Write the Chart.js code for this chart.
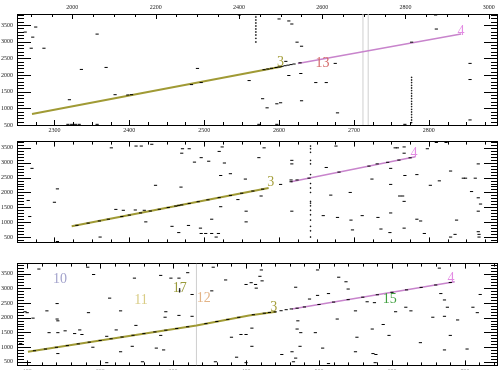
<!DOCTYPE html>
<html><head><meta charset="utf-8">
<script src="https://cdn.jsdelivr.net/npm/chart.js@4"></script>
<style>
body{margin:0;background:#fff;width:502px;height:373px;overflow:hidden;position:relative}
canvas{position:absolute;left:0}
</style></head>
<body>
<canvas id="c1" width="502" height="136" style="top:0px"></canvas>
<canvas id="c2" width="502" height="116" style="top:134px"></canvas>
<canvas id="c3" width="502" height="117" style="top:256px"></canvas>
<script>
// ================= DATA =================
const yTicks = [500,1000,1500,2000,2500,3000,3500];
const p1TopTicks = [2000,2200,2400,2600,2800,3000];
const p1BottomTicks = [2300,2400,2500,2600,2700,2800];
const p3BottomTicks = [100,200,300,400,500,600,700];

// panel 1
const p1Dots = [
[2275,3439],[2261,3288],[2271,3136],[2269,2803],[2286,2803],[2357,3227],[2336,2167],[2369,2227],[2491,2197],[2320,1258],[2381,1409],[2398,1400],[2403,1410],
[2318,520],[2323,520],[2328,520],[2333,520],[2357,520],
[2547,3800],[2560,1833],
[2600,3681],[2613,3621],[2617,3530],[2624,2985],[2630,2863],[2609,2409],[2613,1985],[2629,2045],[2649,1773],[2663,1773],[2675,2348],
[2578,1288],[2584,1015],[2597,1136],[2602,1167],[2630,1227],[2678,864],[2573,520],[2597,520],
[2809,3800],[2810,3379],
[2768,520],[2855,2348],[2855,1864],[2855,652],
[2483,1712],[2496,1773],[2777,2985],
[2580,2160],[2585,2180],[2590,2200],[2596,2225],[2600,2240],[2604,2260],[2608,2278],[2612,2295],[2616,2312],[2620,2330],[2628,2365]
];
const p1Columns = [
[2569,3820],[2569,3740],[2569,3650],[2569,3560],[2569,3470],[2569,3380],[2569,3290],[2569,3200],[2569,3100],[2569,2990],
[2777,1930],[2777,1850],[2777,1770],[2777,1690],[2777,1610],[2777,1530],[2777,1450],[2777,1370],[2777,1290],[2777,1210],[2777,1130],[2777,1050],[2777,970],[2777,890],[2777,810],[2777,730],[2777,650],[2777,570]
];
const p1Olive = [[2270,833],[2604,2257]];
const p1Purple = [[2625,2348],[2843,3227]];
const p1Guides = [2712,2719];
const p1Labels = [['3',2602,2379],['13',2658,2348],['4',2843,3318]];

// panel 2
const p2Dots = [
[2270,2810],[2265,1730],[2304,2120],[2300,1670],[2267,1190],[2304,350],[2361,500],[2376,3500],[2409,3560],[2416,3560],[2430,3620],[2435,2240],[2469,2180],[2470,3320],[2471,3470],[2480,3470],[2487,3020],[2496,3170],[2506,3050],[2520,3380],[2524,3530],[2527,2990],[2522,2570],[2535,2630],[2555,2450],[2545,1760],[2522,1520],[2556,1370],[2556,1010],[2510,1100],[2479,890],[2422,1010],[2457,860],[2466,650],[2495,800],[2496,620],[2502,620],[2510,620],[2519,620],[2516,500],[2382,1430],[2392,1400],[2408,1410],[2420,1400],
[2580,3500],[2573,3170],
[2617,3080],[2617,2960],[2676,3560],[2663,2840],[2616,2420],[2624,2420],[2602,2270],[2576,1880],[2617,1370],[2669,1910],[2695,2000],[2659,1220],[2678,1160],[2696,1070],[2711,1220],[2732,1160],[2724,2450],[2698,740],[2736,770],[2748,650],[2749,2270],[2749,1310],[2749,2810],[2755,3500],[2758,3500],[2767,3530],[2767,3320],[2768,2570],[2761,1880],[2765,1880],[2767,1700],[2767,800],[2784,1100],[2789,1040],[2784,2600],[2794,620],[2798,3470],[2802,2240],[2814,2390],[2810,3680],[2823,3680],[2829,2720],[2829,500],[2837,1070],[2835,590],[2846,2480],[2849,2480],[2862,2480],[2857,2030],[2866,1820],[2866,1370],[2869,1610],[2866,680],[2867,590],[2867,500],[2866,2960],
[2330,894],[2345,968],[2360,1041],[2372,1100],[2390,1189],[2400,1238],[2415,1311],[2428,1375],[2440,1434],[2452,1493],[2462,1542],[2466,1565],[2470,1581],[2480,1630],[2492,1689],[2505,1753],[2520,1826],[2535,1900],[2550,1973],[2565,2047],[2578,2111],
[2616,2360],[2640,2481],[2680,2684],[2720,2886],[2731,2960],[2745,3013],[2760,3089],[2775,3165]
];
const p2Columns = [
[2642,3560],[2642,3470],[2642,3350],[2642,3080],[2642,2960],[2642,2600],[2642,2300],[2642,2150],[2642,2000],[2642,1700],[2642,1640],[2642,1550],[2642,1400],[2642,1250],[2642,1070],[2642,860],[2642,710],[2642,500]
];
const p2Olive = [[2323,860],[2586,2150]];
const p2Purple = [[2616,2360],[2782,3200]];
const p2Guides = [];
const p2Labels = [['3',2589,2330],['4',2780,3320]];

// panel 3
const p3Dots = [
[116,3652],[183,3714],[191,3466],[97,2200],[100,2169],[108,1983],[127,2230],[141,2478],[141,1952],[142,1891],[130,1489],[142,1489],[152,1551],[165,1458],[172,1582],[175,1427],[91,1118],[142,778],[190,994],[184,2169],[213,2663],[209,1365],[222,1582],[228,2230],[228,840],[209,469],[244,1025],[249,1736],[258,500],[247,3343],[283,3436],[297,3343],[308,3343],[290,2200],[289,2014],[308,2076],[326,2045],[320,3528],[326,2787],[277,964],[287,902],[283,1396],
[355,3714],[353,2910],[372,3281],[358,500],[380,1334],[393,1427],[387,655],[400,3127],[400,1427],[400,469],
[421,3621],[419,3405],[422,3250],[413,3127],[414,3003],[498,3621],[527,3374],[537,3219],[468,3034],[540,2972],[498,2756],[513,2818],[487,2632],[566,2539],[576,2509],[667,2818],[672,2601],[721,2787],[676,2354],[711,2354],[605,2200],[619,2354],[626,2230],[550,2230],[656,2014],[672,2045],[690,1921],[717,2169],
[408,1643],[471,1891],[470,1612],[475,1489],[495,1489],[525,1952],[552,1334],[588,1767],[573,1612],[596,1396],[639,1149],[680,1396],[408,1025],[474,1025],[505,964],[449,747],[463,840],[468,624],[465,500],[550,840],[574,778],[578,747],[672,902],[703,933],[577,469],[513,438],[665,3683],[407,3188],
[110,875],[125,933],[140,991],[155,1049],[170,1108],[185,1166],[200,1224],[215,1282],[230,1340],[245,1399],[260,1457],[275,1515],[290,1573],[305,1631],[320,1690],[345,1797],[360,1868],[375,1939],[390,2010],[410,2100],[425,2150],[432,2175],[440,2195],[448,2235],[455,2270],[462,2295],[470,2321],
[480,2363],[500,2446],[520,2529],[540,2612],[560,2695],[580,2778],[600,2861],[620,2944],[640,3027],[660,3110],[680,3193]
];
const p3Columns = [[309,2972],[309,2920],[309,2879]];
const p3Olive = [[101,840],[332,1736],[404,2076],[441,2200]];
const p3Purple = [[463,2292],[686,3219]];
const p3Guides = [332];
const p3Labels = [['10',145,3312],['11',256,2601],['17',309,3003],['12',342,2663],['3',438,2354],['15',597,2632],['4',681,3343]];

// ================= STYLE =================
const labelColors = {'3':'#a59f3c','4':'#e38be3','13':'#d46a6a','10':'#a3a3cc','11':'#d9cc85','17':'#9a9a3a','12':'#e3b487','15':'#3f9f3f'};
const tickFont = {family:'Liberation Serif', size:6};

const innerTicks = {
  id:'innerTicks',
  afterDatasetsDraw(chart, args, opts){
    const ctx = chart.ctx, a = chart.chartArea;
    ctx.save(); ctx.strokeStyle = '#000'; ctx.lineWidth = 1;
    for (const id in opts.cfg || {}) {
      const s = chart.scales[id], o = opts.cfg[id];
      if (!s) continue;
      const start = Math.ceil(s.min / o.minor) * o.minor;
      for (let v = start; v <= s.max + 1e-9; v += o.minor) {
        const r = v / o.major;
        const major = Math.abs(r - Math.round(r)) < 1e-6;
        const len = major ? o.majorLen : o.minorLen;
        const p = Math.round(s.getPixelForValue(v)) + 0.5;
        ctx.beginPath();
        if (s.position === 'left') { ctx.moveTo(a.left, p); ctx.lineTo(a.left + len, p); }
        else if (s.position === 'right') { ctx.moveTo(a.right, p); ctx.lineTo(a.right - len, p); }
        else if (s.position === 'top') { ctx.moveTo(p, a.top); ctx.lineTo(p, a.top + len); }
        else { ctx.moveTo(p, a.bottom); ctx.lineTo(p, a.bottom - len); }
        ctx.stroke();
      }
    }
    ctx.restore();
  }
};
const textLabels = {
  id:'textLabels',
  afterDatasetsDraw(chart, args, opts){
    const ctx = chart.ctx, xs = chart.scales.x, ys = chart.scales.y;
    ctx.save();
    ctx.font = '14px "Liberation Serif"';
    ctx.textAlign = 'center'; ctx.textBaseline = 'middle';
    (opts.items || []).forEach(([t, x, y]) => {
      ctx.fillStyle = labelColors[t] || '#000';
      ctx.fillText(t, xs.getPixelForValue(x), ys.getPixelForValue(y));
    });
    ctx.restore();
  }
};
Chart.register(innerTicks, textLabels);

const pts = a => a.map(([x, y]) => ({x, y}));

function datasets(dots, cols, olive, purple, guides, yMin, yMax){
  const ds = [
    {data: pts(dots), showLine:false, pointStyle:'line', pointRadius:1.6, pointBorderColor:'#000', pointBorderWidth:1, order:0},
    {data: pts(cols), showLine:false, pointStyle:'rect', pointRadius:0.6, pointBackgroundColor:'#000', pointBorderColor:'#000', pointBorderWidth:0.6, order:0},
    {data: pts(olive), showLine:true, borderColor:'#a09a35', borderWidth:2, pointRadius:0, order:2},
    {data: pts(purple), showLine:true, borderColor:'#c884cc', borderWidth:1.5, pointRadius:0, order:2}
  ];
  guides.forEach(g => ds.push({data:[{x:g, y:yMin},{x:g, y:yMax}], showLine:true, borderColor:'#cfcfcf', borderWidth:1, pointRadius:0, order:3}));
  return ds;
}

function axis(pos, min, max, size, tickVals, pad){
  const horizontal = (pos === 'top' || pos === 'bottom');
  return {
    type:'linear', position:pos, min, max,
    grid:{display:true, drawOnChartArea:false, drawTicks:false},
    border:{display:true, color:'#000', width:1},
    ticks:{display: !!tickVals, font: tickFont, color:'#222', padding: pad || 3, maxRotation:0, autoSkip:false,
           callback: v => String(v)},
    afterBuildTicks: s => { if (tickVals) s.ticks = tickVals.filter(v => v >= min && v <= max).map(v => ({value:v})); },
    afterFit: s => { if (horizontal) s.height = size; else s.width = size; }
  };
}

function panel(id, cfg){
  new Chart(document.getElementById(id), {
    type:'scatter',
    data:{datasets: datasets(cfg.dots, cfg.cols, cfg.olive, cfg.purple, cfg.guides, cfg.y[0], cfg.y[1])},
    options:{
      responsive:false, animation:false, devicePixelRatio:1,
      layout:{padding:0},
      scales:{
        x: axis('bottom', cfg.x[0], cfg.x[1], cfg.bottomH, cfg.bottomTicks, 2),
        x2: axis('top', cfg.x2[0], cfg.x2[1], cfg.topH, cfg.topTicks, 3),
        y: axis('left', cfg.y[0], cfg.y[1], 17, yTicks, 4),
        y2: axis('right', cfg.y[0], cfg.y[1], 1, null)
      },
      plugins:{
        legend:{display:false}, tooltip:{enabled:false},
        textLabels:{items: cfg.labels},
        innerTicks:{cfg:{
          x:{major:cfg.xMajor, minor:cfg.xMinor, majorLen:5, minorLen:3},
          x2:{major:cfg.x2Major, minor:cfg.x2Minor, majorLen:5, minorLen:3},
          y:{major:500, minor:100, majorLen:14, minorLen:7},
          y2:{major:500, minor:100, majorLen:13, minorLen:6}
        }}
      }
    }
  });
}

panel('c1', {dots:p1Dots, cols:p1Columns, olive:p1Olive, purple:p1Purple, guides:p1Guides, labels:p1Labels,
  x:[2250,2891], x2:[1867,3020], y:[500,3830], bottomH:11, topH:14,
  bottomTicks:p1BottomTicks, topTicks:p1TopTicks, xMajor:100, xMinor:25, x2Major:200, x2Minor:50});
panel('c2', {dots:p2Dots, cols:p2Columns, olive:p2Olive, purple:p2Purple, guides:p2Guides, labels:p2Labels,
  x:[2250,2891], x2:[2250,2891], y:[320,3710], bottomH:2, topH:1,
  bottomTicks:null, topTicks:null, xMajor:100, xMinor:25, x2Major:100, x2Minor:25});
panel('c3', {dots:p3Dots, cols:p3Columns, olive:p3Olive, purple:p3Purple, guides:p3Guides, labels:p3Labels,
  x:[86,744], x2:[86,744], y:[376,3837], bottomH:4, topH:1,
  bottomTicks:p3BottomTicks, topTicks:null, xMajor:100, xMinor:20, x2Major:100, x2Minor:20});
</script>
</body></html>
